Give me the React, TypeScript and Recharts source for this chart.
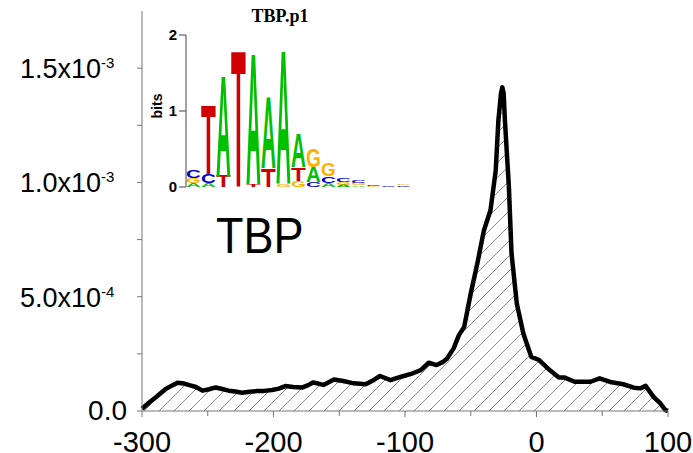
import React from 'react';
import { AreaChart, Area, XAxis, YAxis, BarChart, Bar } from 'recharts';

// positions relative to site (bp) and the averaged signal, in units of 1e-4
const positions = [
  -300, -295, -289, -282, -277, -273, -268, -264, -259, -254, -249, -244, -239, -234, -229, -224,
  -218, -213, -207, -201, -196, -191, -185, -178, -174, -170, -166, -162, -158, -154, -147, -139,
  -130, -124, -119, -111, -106, -101, -94, -88, -82, -76, -71, -68, -63, -59, -55, -50, -45, -40,
  -35, -31, -29, -27, -26, -25, -24, -21, -19, -15, -10, -4, 2, 10, 17, 21, 29, 41, 48, 56, 66,
  74, 79, 83, 89, 94, 98, 100,
];
const signalE4 = [
  0.1, 0.35, 0.62, 0.96, 1.12, 1.24, 1.2, 1.13, 1.05, 0.89, 0.95, 1.03, 0.96, 0.89, 0.85, 0.8,
  0.84, 0.87, 0.88, 0.92, 0.98, 1.09, 1.05, 1.03, 1.12, 1.25, 1.2, 1.14, 1.26, 1.38, 1.31, 1.21,
  1.17, 1.35, 1.53, 1.35, 1.45, 1.53, 1.65, 1.79, 2.11, 2.01, 2.15, 2.3, 2.74, 3.32, 3.68, 5.14,
  6.45, 7.9, 8.78, 10.52, 12.7, 13.9, 14.16, 13.9, 12.7, 9.8, 6.9, 4.7, 3.39, 2.37, 2.23, 1.79,
  1.47, 1.47, 1.28, 1.28, 1.43, 1.27, 1.17, 1.02, 0.99, 1.1, 0.62, 0.34, 0.04, 0,
];

const xTicks = [-300, -250, -200, -150, -100, -50, 0, 50, 100];
const yTicks = [0, 0.00025, 0.0005, 0.00075, 0.001, 0.00125, 0.0015];
const yMantissa = ['0.0', '', '5.0x10', '', '1.0x10', '', '1.5x10'];
const yExponent = ['', '', '-4', '', '-3', '', '-3'];

// sequence logo TBP.p1: letters stacked bottom -> top, heights in bits
const logoLetters = [
  ['A', 'G', 'C'], ['A', 'C', 'T'], ['T', 'A'], ['T'], ['T', 'A'], ['T', 'A'], ['G', 'A'],
  ['G', 'T', 'A'], ['C', 'A', 'G'], ['A', 'C', 'G'], ['A', 'G', 'C'], ['A', 'G', 'C'],
  ['G', 'C'], ['C'], ['C', 'G'],
];
const logoBits = [
  [0.05, 0.07, 0.1], [0.05, 0.12, 0.93], [0.15, 1.37], [1.83], [0.04, 1.76], [0.25, 0.96],
  [0.04, 1.8], [0.08, 0.18, 0.45], [0.06, 0.2, 0.24], [0.05, 0.09, 0.17], [0.03, 0.03, 0.05],
  [0.02, 0.03, 0.03], [0.01, 0.01], [0.01], [0.02, 0.02],
];
const letterColors: Record<string, string> = { A: '#00c000', C: '#0000d0', G: '#ffb000', T: '#d00000' };

const data = positions.map((p, i) => ({ pos: p, value: signalE4[i] * 1e-4 }));
const logoData = logoLetters.map((col, i) => {
  const row: any = { pos: i + 1 };
  for (let r = 0; r < 4; r++) {
    row['r' + r] = logoBits[i][r] || 0;
    row['l' + r] = col[r] || '';
  }
  return row;
});

const FONT = '"Liberation Sans", Arial, sans-serif';

function XTick(props: any) {
  const { x, y, payload } = props;
  const major = payload.value % 100 === 0;
  return (
    <g>
      <line x1={x} x2={x} y1={y} y2={y + (major ? 6 : 5)} stroke="#777" strokeWidth={1} />
      {major && (
        <text x={x} y={y + 41} textAnchor="middle" fontSize={29} fontFamily={FONT} fill="#000">
          {payload.value}
        </text>
      )}
    </g>
  );
}

function YTick(props: any) {
  const { x, y, index } = props;
  const m = yMantissa[index];
  const e = yExponent[index];
  return (
    <g>
      <line x1={x - 5} x2={x} y1={y} y2={y} stroke="#777" strokeWidth={1} />
      {m && !e && (
        <text x={x - 15} y={y + 9} textAnchor="end" fontSize={28} fontFamily={FONT} fill="#000">
          {m}
        </text>
      )}
      {m && e && (
        <g>
          <text x={x - 41} y={y + 10} textAnchor="end" fontSize={27} fontFamily={FONT} fill="#000">
            {m}
          </text>
          <text x={x - 41} y={y} textAnchor="start" fontSize={15} fontFamily={FONT} fill="#000">
            {e}
          </text>
        </g>
      )}
    </g>
  );
}

function LogoYTick(props: any) {
  const { x, y, payload } = props;
  return (
    <g>
      <line x1={x - 7} x2={x} y1={y} y2={y} stroke="#444" strokeWidth={1} />
      <text x={x - 9} y={y + 5} textAnchor="end" fontSize={15} fontWeight="bold" fontFamily={FONT} fill="#000">
        {payload.value}
      </text>
    </g>
  );
}

function makeGlyph(rank: number) {
  return (props: any) => {
    const { x, y, width, height, payload } = props;
    const letter = payload['l' + rank];
    if (!letter || !height || height < 0.4) return <g />;
    const F = 20;
    const sy = height / (0.716 * F);
    const w = width * 1.14;
    return (
      <text
        x={0}
        y={0}
        fontSize={F}
        fontWeight="bold"
        fontFamily={FONT}
        fill={letterColors[letter]}
        textLength={w}
        lengthAdjust="spacingAndGlyphs"
        transform={`translate(${x - width * 0.07},${y + height}) scale(1,${sy})`}
      >
        {letter}
      </text>
    );
  };
}

export default function App() {
  return (
    <div style={{ position: 'absolute', left: 0, top: 0, width: 693, height: 453, background: '#fff' }}>
      <AreaChart width={693} height={453} data={data} margin={{ top: 11, right: 25, bottom: 0, left: 0 }}>
        <defs>
          <pattern id="hatch" patternUnits="userSpaceOnUse" width={15} height={15}>
            <path d="M0,15 L15,0 M-4,4 L4,-4 M11,19 L19,11" stroke="#888" strokeWidth={1} />
          </pattern>
        </defs>
        <XAxis
          dataKey="pos"
          type="number"
          domain={[-300, 100]}
          ticks={xTicks}
          height={42}
          tickSize={0}
          tickMargin={0}
          tickLine={false}
          axisLine={{ stroke: '#777' }}
          tick={<XTick />}
          interval={0}
        />
        <YAxis
          type="number"
          domain={[0, 0.00175]}
          ticks={yTicks}
          width={142}
          tickSize={0}
          tickMargin={0}
          tickLine={false}
          axisLine={{ stroke: '#777' }}
          tick={<YTick />}
          interval={0}
        />
        <Area
          type="linear"
          dataKey="value"
          stroke="#000"
          strokeWidth={4.5}
          strokeLinejoin="round"
          fill="url(#hatch)"
          fillOpacity={1}
          isAnimationActive={false}
          dot={false}
          activeDot={false}
        />
      </AreaChart>

      <div style={{ position: 'absolute', left: 140, top: 0 }}>
        <BarChart
          width={280}
          height={200}
          data={logoData}
          margin={{ top: 35, right: 9, bottom: 13, left: 0 }}
          barCategoryGap={1}
          barGap={0}
        >
          <XAxis dataKey="pos" hide />
          <YAxis
            type="number"
            domain={[0, 2]}
            ticks={[0, 1, 2]}
            width={46}
            tickSize={0}
            tickMargin={0}
            tickLine={false}
            axisLine={{ stroke: '#444' }}
            tick={<LogoYTick />}
            interval={0}
          />
          {[0, 1, 2, 3].map((r) => (
            <Bar key={r} dataKey={'r' + r} stackId="s" isAnimationActive={false} shape={makeGlyph(r)} />
          ))}
        </BarChart>
        <div
          style={{
            position: 'absolute',
            left: 90,
            top: 6,
            width: 100,
            textAlign: 'center',
            fontFamily: '"Liberation Serif", serif',
            fontWeight: 'bold',
            fontSize: 18,
          }}
        >
          TBP.p1
        </div>
        <div
          style={{
            position: 'absolute',
            left: 5,
            top: 98,
            transform: 'rotate(-90deg)',
            fontFamily: FONT,
            fontWeight: 'bold',
            fontSize: 14,
          }}
        >
          bits
        </div>
      </div>

      <div style={{ position: 'absolute', left: 216, top: 206, fontFamily: FONT, fontSize: 50, lineHeight: '60px' }}>
        <span style={{ display: 'inline-block', transform: 'scaleX(0.9)', transformOrigin: 'left' }}>TBP</span>
      </div>
    </div>
  );
}
